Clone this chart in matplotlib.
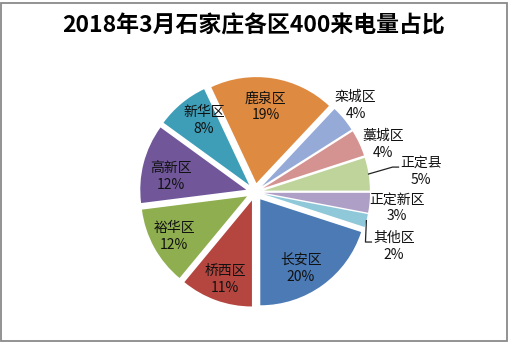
import numpy as np
import matplotlib
matplotlib.use("Agg")
import matplotlib.pyplot as plt
from matplotlib.patches import Rectangle

plt.rcParams['font.family'] = ['Noto Sans CJK SC', 'DejaVu Sans']

# data, in drawing order (clockwise)
districts = ['长安区', '桥西区', '裕华区', '高新区', '新华区', '鹿泉区',
             '栾城区', '藁城区', '正定县', '正定新区', '其他区']
shares = [20, 11, 12, 12, 8, 19, 4, 4, 5, 3, 2]
title = '2018年3月石家庄各区400来电量占比'

colors = ['#4B7AB4', '#B4463F', '#8EAE4F', '#71579A', '#3E9EB8', '#DE8A40',
          '#96AAD7', '#D49391', '#BFD49A', '#AD9FC6', '#8FC8D8']

# label placement: distance from pie centre (in radii) and angle nudge (deg)
lab_r = [0.84, 0.87, 0.87, 0.81, 0.83, 0.81, 1.25, 1.29, 1.58, 1.35, 1.41]
lab_da = [-5, 1, 0, 4, -4, 2, 1, -5, -2, -1, -7]
leader = [False] * 8 + [True, False, True]

W, H = 510, 342
fig = plt.figure(figsize=(W / 100, H / 100), dpi=100)
ax = fig.add_axes([0, 0, 1, 1])

cx, cy, R, expl = 255, 150, 106, 9
wedges, _ = ax.pie(shares, colors=colors, startangle=-18, counterclock=False,
                   radius=R, center=(cx, cy), explode=[expl] * len(shares),
                   frame=True, wedgeprops=dict(linewidth=0))
ax.set_xlim(0, W)
ax.set_ylim(0, H)
ax.axis('off')

for w, name, val, r, da, ld in zip(wedges, districts, shares, lab_r, lab_da, leader):
    mid = 0.5 * (w.theta1 + w.theta2)
    a = np.radians(mid + da)
    lx = cx + r * R * np.cos(a)
    ly = cy + r * R * np.sin(a)
    ax.text(lx, ly + 8.5, name, ha='center', va='center', fontsize=10, color='#111111')
    ax.text(lx, ly - 8.5, f'{val}%', ha='center', va='center', fontsize=10, color='#111111')
    if ld:
        m = np.radians(mid)
        ex, ey = w.center
        sx = ex + R * np.cos(m)
        sy = ey + R * np.sin(m)
        left = lx - len(name) * 6.9
        ky = ly + 8.5 - 4
        ax.plot([sx, left - 8, left - 2], [sy, ky, ky], color='#222222', lw=0.9)

ax.text(254, H - 26, title, ha='center', va='center', fontsize=16.5,
        fontweight='bold', color='black')

ax.add_patch(Rectangle((1.5, 1.5), W - 4, H - 4, fill=False,
                       edgecolor='#8a8a8a', lw=1.3, clip_on=False))

fig.savefig('out.png', dpi=100)
